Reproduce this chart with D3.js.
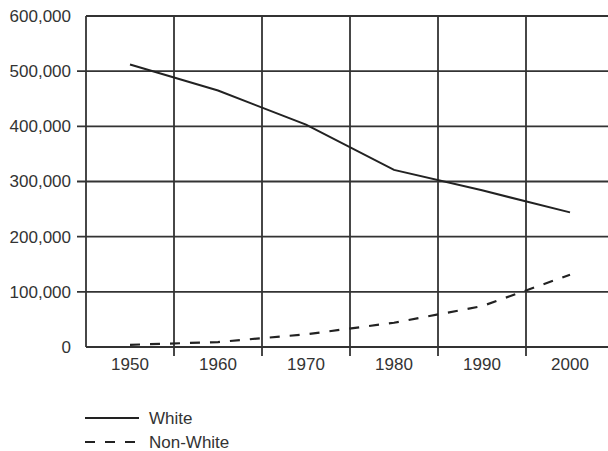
<!DOCTYPE html>
<html>
<head>
<meta charset="utf-8">
<script src="https://cdn.jsdelivr.net/npm/d3@7"></script>
<style>
  html, body { margin: 0; padding: 0; background: #fff; }
  svg { display: block; }
  text { font-family: "Liberation Sans", Arial, sans-serif; fill: #333; }
</style>
</head>
<body>
<svg id="chart" width="608" height="451"></svg>
<script>
const years = ["1950", "1960", "1970", "1980", "1990", "2000"];
const whiteValues = [512000, 465000, 403000, 321000, 284000, 244000];
const nonWhiteValues = [4000, 9000, 23000, 44000, 74000, 131000];
const yTicks = [0, 100000, 200000, 300000, 400000, 500000, 600000];
const seriesNames = ["White", "Non-White"];

const svg = d3.select("#chart");
const mLeft = 86, mRight = 614, mTop = 16, mBottom = 347;

const x = d3.scaleBand().domain(years).range([mLeft, mRight]).padding(0);
const y = d3.scaleLinear().domain([0, 600000]).range([mBottom, mTop]);

const grid = svg.append("g").attr("stroke", "#333").attr("stroke-width", 1.8);

// horizontal gridlines (with short ticks on interior values)
grid.selectAll("line.h").data(yTicks).join("line")
  .attr("class", "h")
  .attr("x1", d => (d === 0 || d === 600000) ? mLeft : mLeft - 9)
  .attr("x2", mRight)
  .attr("y1", d => y(d)).attr("y2", d => y(d));

// vertical lines at band starts (left border + separators)
grid.selectAll("line.v").data(years).join("line")
  .attr("class", "v")
  .attr("x1", d => x(d)).attr("x2", d => x(d))
  .attr("y1", mTop)
  .attr("y2", (d, i) => i === 0 ? mBottom : mBottom + 9);

// y axis labels
const yAxis = svg.append("g").attr("transform", `translate(${mLeft},0)`)
  .call(d3.axisLeft(y).tickValues(yTicks).tickFormat(d3.format(",")).tickSize(0).tickPadding(15));
yAxis.select(".domain").remove();
yAxis.selectAll("text").style("font-size", "17px").style("fill", "#333")
  .style("font-family", '"Liberation Sans", Arial, sans-serif');

// x axis labels
const xAxis = svg.append("g").attr("transform", `translate(0,${mBottom})`)
  .call(d3.axisBottom(x).tickSize(0).tickPadding(11));
xAxis.select(".domain").remove();
xAxis.selectAll("text").style("font-size", "17px").style("fill", "#333")
  .style("font-family", '"Liberation Sans", Arial, sans-serif');

const line = d3.line()
  .x((d, i) => x(years[i]) + x.bandwidth() / 2)
  .y(d => y(d));

svg.append("path").datum(whiteValues)
  .attr("d", line).attr("fill", "none")
  .attr("stroke", "#222").attr("stroke-width", 2);

svg.append("path").datum(nonWhiteValues)
  .attr("d", line).attr("fill", "none")
  .attr("stroke", "#222").attr("stroke-width", 2.2)
  .attr("stroke-dasharray", "10,10");

// legend
const legend = svg.append("g");
const ly = [418, 442];
legend.selectAll("line").data(seriesNames).join("line")
  .attr("x1", 85).attr("x2", 139)
  .attr("y1", (d, i) => ly[i]).attr("y2", (d, i) => ly[i])
  .attr("stroke", "#222").attr("stroke-width", 1.8)
  .attr("stroke-dasharray", (d, i) => i === 0 ? null : "10,10");
legend.selectAll("text").data(seriesNames).join("text")
  .attr("x", 149).attr("y", (d, i) => ly[i])
  .attr("dy", "0.35em")
  .style("font-size", "17px")
  .text(d => d);
</script>
</body>
</html>
